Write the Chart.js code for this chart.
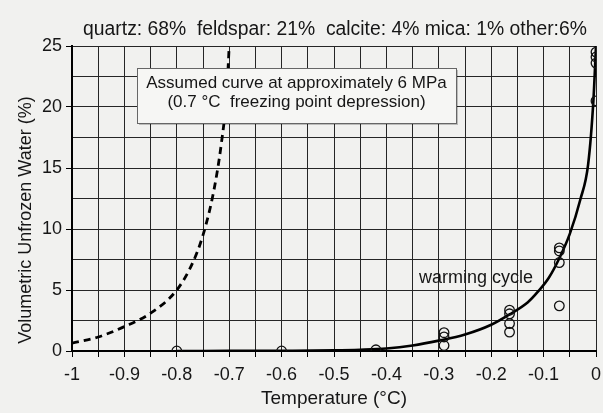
<!DOCTYPE html>
<html>
<head>
<meta charset="utf-8">
<script src="https://cdn.jsdelivr.net/npm/chart.js@4.4.0/dist/chart.umd.min.js"></script>
<style>
  html, body { margin: 0; padding: 0; background: #f1f1ef; }
  #wrap { width: 603px; height: 413px; }
</style>
</head>
<body>
<div id="wrap"><canvas id="ufwChart" width="603" height="413"></canvas></div>
<script>
// measured points (warming cycle)
var pointTemps = [-0.8, -0.6, -0.42, -0.29, -0.29, -0.29, -0.165, -0.165, -0.165, -0.165, -0.07, -0.07, -0.07, -0.07, 0, 0, 0, 0];
var pointWater = [0, 0, 0.1, 1.5, 1.15, 0.45, 3.35, 3.05, 2.25, 1.55, 8.45, 8.2, 7.25, 3.7, 24.5, 24.1, 23.6, 20.5];

// fitted curve
var curveTemps = [-0.8, -0.7, -0.6, -0.5, -0.45, -0.4, -0.35, -0.3, -0.25, -0.2, -0.165, -0.13, -0.11, -0.09, -0.07, -0.05, -0.03, -0.015, -0.005, 0];
var curveWater = [0, 0.01, 0.02, 0.05, 0.1, 0.2, 0.45, 0.85, 1.35, 2.15, 3.0, 4.0, 4.9, 6.0, 7.6, 9.6, 12.4, 15.3, 20.5, 25];

// assumed curve at ~6 MPa
var dashedTemps = [-1, -0.95, -0.9, -0.85, -0.8, -0.77, -0.75, -0.73, -0.715, -0.705, -0.7];
var dashedWater = [0.65, 1.15, 2.0, 3.1, 5.0, 7.2, 9.5, 13, 17, 21, 25];

var xTicksMin = -1, xTicksMax = 0;
var yTicksMin = 0, yTicksMax = 25;

var topNote = 'quartz: 68%  feldspar: 21%  calcite: 4% mica: 1% other:6%';
var boxLines = ['Assumed curve at approximately 6 MPa', '(0.7 \u00B0C  freezing point depression)'];
var cycleLabel = 'warming cycle';
var yTitle = 'Volumetric Unfrozen Water (%)';

function toXY(xs, ys) {
    return xs.map(function(x, i) { return { x: x, y: ys[i] }; });
}

var FONT = '"Liberation Sans", Arial, sans-serif';
var INK = '#161616';

var paperPlugin = {
    id: 'paper',
    beforeDraw: function(chart) {
        var c = chart.ctx;
        c.save();
        c.fillStyle = '#f1f1ef';
        c.fillRect(0, 0, chart.width, chart.height);
        c.restore();
    },
    afterDatasetsDraw: function(chart) {
        var c = chart.ctx;
        var xs = chart.scales.x, ys = chart.scales.y;
        c.save();
        c.fillStyle = INK;
        c.textBaseline = 'middle';
        c.textAlign = 'center';

        // top composition note, sized to span the plot like the original
        c.font = '16px ' + FONT;
        var w = c.measureText(topNote).width;
        var fs = 16 * 504 / w;
        c.font = fs.toFixed(2) + 'px ' + FONT;
        c.fillText(topNote, 335, 30);

        // y axis title
        c.save();
        c.translate(26, 220);
        c.rotate(-Math.PI / 2);
        c.font = '18px ' + FONT;
        c.fillText(yTitle, 0, 0);
        c.restore();

        // annotation box
        var bx = 137, by = 68, bw = 319, bh = 55;
        c.fillStyle = 'rgba(0,0,0,0.22)';
        c.fillRect(bx + 2, by + 2, bw, bh);
        c.fillStyle = '#f6f6f4';
        c.fillRect(bx, by, bw, bh);
        c.strokeStyle = '#666';
        c.lineWidth = 1;
        c.strokeRect(bx + 0.5, by + 0.5, bw, bh);
        c.fillStyle = INK;
        c.font = '17px ' + FONT;
        c.fillText(boxLines[0], bx + bw / 2, 83);
        c.fillText(boxLines[1], bx + bw / 2, 102);

        // curve label
        c.font = '18px ' + FONT;
        c.fillText(cycleLabel, xs.getPixelForValue(-0.229), ys.getPixelForValue(6.0));
        c.restore();
    }
};

var ctx = document.getElementById('ufwChart').getContext('2d');
var ufwChart = new Chart(ctx, {
    type: 'scatter',
    data: {
        datasets: [{
            label: 'warming cycle',
            data: toXY(pointTemps, pointWater),
            showLine: false,
            pointStyle: 'circle',
            pointRadius: 4.8,
            pointBorderWidth: 1.3,
            pointBorderColor: '#111',
            pointBackgroundColor: 'rgba(0,0,0,0)'
        }, {
            label: 'fit',
            data: toXY(curveTemps, curveWater),
            showLine: true,
            pointRadius: 0,
            borderColor: '#000',
            borderWidth: 2.6,
            cubicInterpolationMode: 'monotone',
            fill: false
        }, {
            label: 'assumed 6 MPa',
            data: toXY(dashedTemps, dashedWater),
            showLine: true,
            pointRadius: 0,
            borderColor: '#000',
            borderWidth: 2.8,
            borderDash: [7, 5],
            cubicInterpolationMode: 'monotone',
            fill: false
        }]
    },
    options: {
        responsive: false,
        animation: false,
        layout: { padding: { left: 8, right: 7, top: 46, bottom: 3 } },
        plugins: {
            legend: { display: false },
            tooltip: { enabled: false }
        },
        scales: {
            x: {
                type: 'linear',
                min: xTicksMin,
                max: xTicksMax,
                afterFit: function(scale) {
                    scale.height = 59;
                    scale.paddingLeft = 0;
                    scale.paddingRight = 0;
                },
                ticks: {
                    stepSize: 0.05,
                    autoSkip: false,
                    maxRotation: 0,
                    color: INK,
                    font: { family: FONT, size: 18 },
                    padding: 7,
                    callback: function(value) {
                        var r = Math.round(value * 100);
                        if (r % 10 !== 0) return '';
                        return String(r / 100);
                    }
                },
                grid: {
                    color: '#262626',
                    lineWidth: 1,
                    tickLength: 6,
                    tickColor: '#000'
                },
                border: { display: true, color: '#000', width: 2 },
                title: {
                    display: true,
                    text: 'Temperature (\u00B0C)',
                    color: INK,
                    font: { family: FONT, size: 19 },
                    padding: { top: 0, bottom: 0 }
                }
            },
            y: {
                min: yTicksMin,
                max: yTicksMax,
                afterFit: function(scale) {
                    scale.width = 64;
                    scale.paddingTop = 0;
                    scale.paddingBottom = 0;
                },
                ticks: {
                    stepSize: 2.5,
                    color: INK,
                    font: { family: FONT, size: 18 },
                    padding: 4,
                    callback: function(value) {
                        return (Math.round(value * 10) % 50 === 0) ? value : '';
                    }
                },
                grid: {
                    color: '#262626',
                    lineWidth: 1,
                    tickLength: 6,
                    tickColor: function(c) {
                        return (c.tick && Math.round(c.tick.value * 10) % 50 === 0) ? '#000' : 'rgba(0,0,0,0)';
                    }
                },
                border: { display: true, color: '#000', width: 2 }
            }
        }
    },
    plugins: [paperPlugin]
});
</script>
</body>
</html>
